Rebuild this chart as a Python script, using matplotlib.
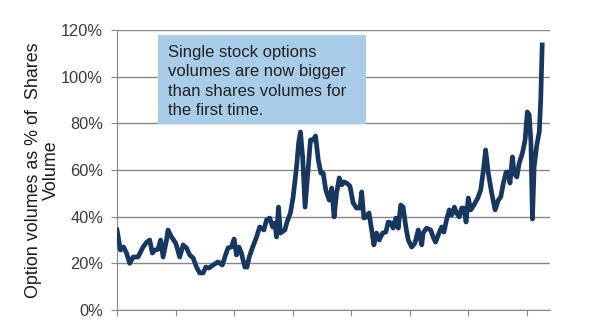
import matplotlib.pyplot as plt
from matplotlib.patches import Rectangle
from matplotlib.ticker import PercentFormatter

plt.rcParams['font.family'] = ['Liberation Sans', 'DejaVu Sans']

# months since start of the series, option volume as % of share volume
months = [0, 1.4, 2.7, 3.9, 5.2, 6.6, 8.6, 10.7, 12.1, 13.4, 14.5, 15.5, 16.8, 17.9,
          18.9, 20.3, 20.9, 22.3, 24.1, 25.7, 27.1, 28.5, 29.8, 31.2, 32.6, 33.9,
          35.3, 36.4, 37.7, 39.4, 41.4, 43.2, 44.2, 45.5, 46.9, 48, 49, 50, 51,
          52.4, 53.3, 54.2, 55.5, 57.2, 58.5, 60.2, 61.3, 62.6, 63.8, 64.7, 65.4,
          66.2, 67, 68.8, 69.7, 71.1, 72.2, 73.6, 74.5, 75.2, 76.1, 77.1, 78.4,
          79.3, 80.4, 81.4, 82.5, 83.6, 84.5, 85.6, 87, 88, 89, 90, 91.1, 92.1,
          93, 94.1, 95.5, 96.8, 98.2, 99.6, 100.3, 101.2, 102.3, 103.3, 104.4,
          105.3, 106.4, 107.5, 108.9, 110.2, 111.2, 112.3, 113.2, 114.3, 115.3,
          116.3, 117.3, 118.4, 119.4, 120.8, 122.1, 123.5, 124.9, 125.5, 126.9,
          128.6, 129.6, 130.6, 132, 133.1, 134, 135.1, 136.2, 137.2, 138.3,
          139.2, 140.3, 141.3, 142.2, 143.1, 144, 145, 146.3, 147.9, 149.1,
          150.2, 151.1, 152.2, 153.6, 155, 156.3, 157.3, 158.4, 159.5, 160.4,
          161.1, 162.1, 162.8, 163.9, 164.9, 166.2, 167.3, 168.2, 169, 169.7,
          170.3, 171, 172.1, 173.1, 173.7, 174.3]
pct = [34.3, 25.7, 27, 24.4, 20, 22.7, 22.7, 27, 29, 30, 24.4, 25.7, 26, 30,
       22.7, 30, 34.3, 31.4, 28.6, 22.7, 27.9, 26.6, 23.6, 22.3, 18.4, 15.9,
       15.9, 18.4, 18, 19.3, 20.6, 19.3, 22.7, 26.6, 27, 30.4, 23.6, 27, 24.4,
       18.4, 18.4, 22.7, 26.6, 31.3, 35.6, 34.3, 38.6, 39.4, 35.6, 37.3, 31.3,
       44.1, 33, 34.3, 37.7, 41.6, 48.4, 61.3, 72, 76.3, 65.6, 44.1, 61.3,
       72.9, 72.9, 74.6, 64.3, 58.7, 58.7, 51.4, 47.1, 52.3, 39.9, 50.1, 56.6,
       53.6, 54.9, 54.4, 53.1, 45.9, 43.7, 43.7, 50.6, 39.4, 39.9, 41.6, 34.3,
       27.9, 33, 30, 33, 33.4, 37.7, 37.3, 35.1, 39.4, 35.1, 45, 44.1, 35.6,
       30, 27, 28.6, 34.3, 27.9, 33, 35.1, 34.3, 31.3, 29.1, 33, 35.6, 33.4,
       38.6, 42.9, 40.7, 44.1, 41.6, 39.9, 43.7, 43.7, 37.7, 48, 42.9, 45, 48,
       51.4, 60, 68.6, 58.7, 50.1, 42.9, 47.1, 48.4, 54.4, 59.1, 59.1, 54.4,
       65.6, 58.7, 57, 63, 67.3, 72.9, 84.9, 83.6, 71.6, 39, 61.3, 70.7, 76.3,
       90, 113.6]

note = "Single stock options\nvolumes are now bigger\nthan shares volumes for\nthe first time."

fig = plt.figure(figsize=(5.9, 3.23), dpi=100)
ax = fig.add_axes([0.1983, 0.0402, 0.7339, 0.8669])

ax.plot(months, pct, color='#17375e', linewidth=3.4, solid_joinstyle='round', zorder=3)

ax.set_ylim(0, 120)
ax.set_xlim(0, 177.5)
ax.set_yticks(range(0, 121, 20))
ax.yaxis.set_major_formatter(PercentFormatter(decimals=0))
ax.set_xticks(range(0, 170, 24))
ax.set_xticklabels([])
ax.grid(axis='y', color='#878787', linewidth=1)
ax.set_axisbelow(True)

for side in ['top', 'right']:
    ax.spines[side].set_visible(False)
for side in ['left', 'bottom']:
    ax.spines[side].set_color('#878787')
ax.tick_params(axis='y', length=4, color='#878787', labelsize=11.8, labelcolor='#3a3a3a', pad=6)
ax.tick_params(axis='x', length=4, color='#878787', direction='out')

fig.text(0.072, 0.472, "Option volumes as % of  Shares\nVolume", rotation=90,
         ha='center', va='center', fontsize=12.9, color='#1a1a1a', linespacing=1.12)

# note box
ax.add_patch(Rectangle((0.0947, 0.664), 0.4803, 0.318, transform=ax.transAxes,
                       facecolor='#a9cde9', edgecolor='none', zorder=2))
ax.text(0.1185, 0.947, note, transform=ax.transAxes, ha='left', va='top', fontsize=12,
        color='#222222', linespacing=1.37, zorder=4)

fig.savefig('out.png', dpi=100)
